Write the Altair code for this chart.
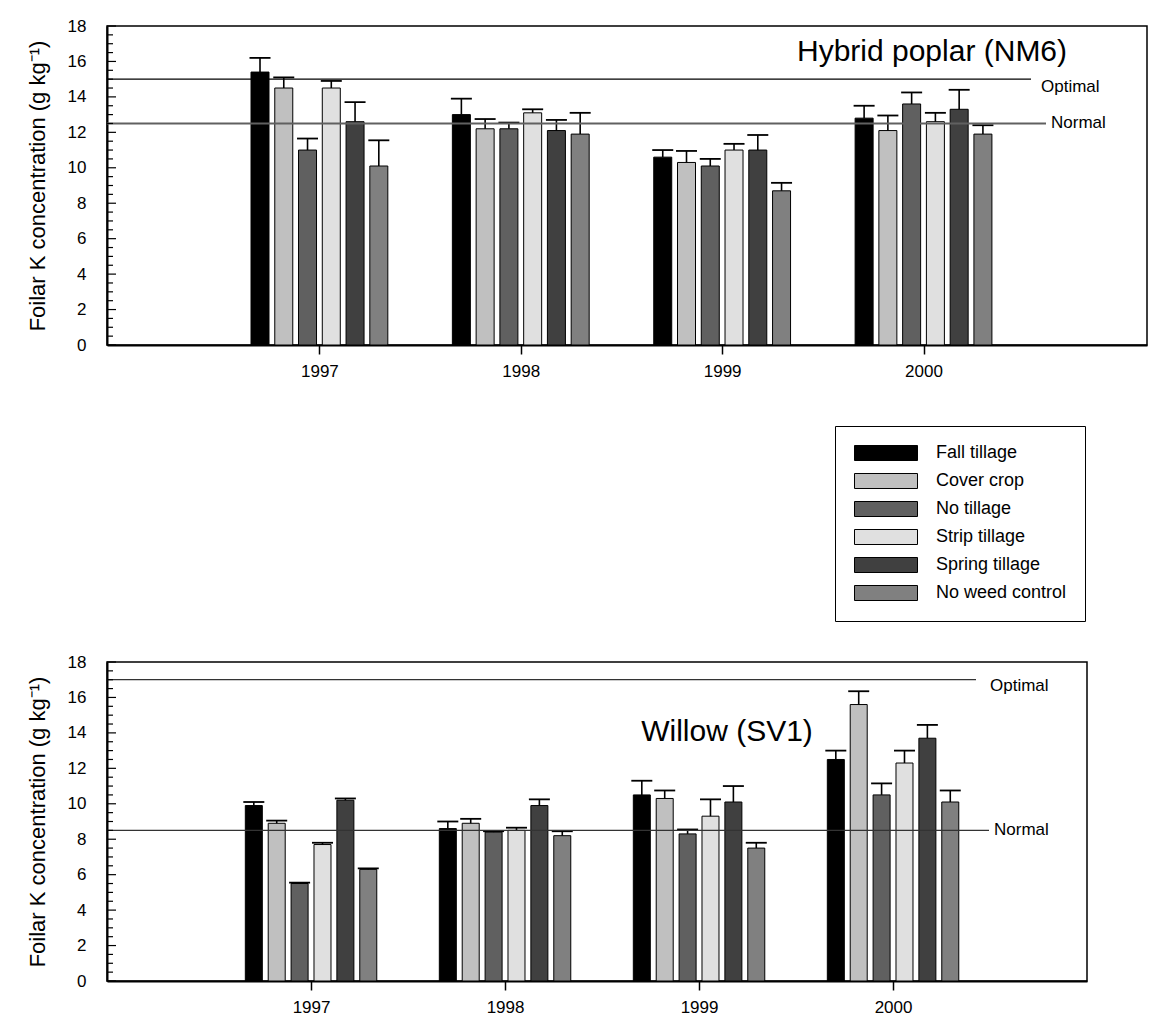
import altair as alt
import pandas as pd

# Treatments, their bar fills and the sampling years
treatments = ["Fall tillage", "Cover crop", "No tillage", "Strip tillage",
              "Spring tillage", "No weed control"]
fills = ["#000000", "#c0c0c0", "#606060", "#e0e0e0", "#404040", "#808080"]
years = [1997, 1998, 1999, 2000]

# Hybrid poplar (NM6): mean foliar K (g/kg) and standard error, one row per year
poplar_mean = [
    [15.4, 14.5, 11.0, 14.5, 12.6, 10.1],
    [13.0, 12.2, 12.2, 13.1, 12.1, 11.9],
    [10.6, 10.3, 10.1, 11.0, 11.0, 8.7],
    [12.8, 12.1, 13.6, 12.6, 13.3, 11.9],
]
poplar_se = [
    [0.8, 0.6, 0.65, 0.4, 1.1, 1.45],
    [0.9, 0.55, 0.35, 0.2, 0.6, 1.2],
    [0.4, 0.65, 0.4, 0.35, 0.85, 0.45],
    [0.7, 0.85, 0.65, 0.5, 1.1, 0.5],
]

# Willow (SV1): mean foliar K (g/kg) and standard error, one row per year
willow_mean = [
    [9.9, 8.9, 5.5, 7.7, 10.2, 6.3],
    [8.6, 8.9, 8.4, 8.5, 9.9, 8.2],
    [10.5, 10.3, 8.3, 9.3, 10.1, 7.5],
    [12.5, 15.6, 10.5, 12.3, 13.7, 10.1],
]
willow_se = [
    [0.2, 0.15, 0.05, 0.1, 0.1, 0.05],
    [0.4, 0.25, 0.05, 0.15, 0.35, 0.25],
    [0.8, 0.45, 0.25, 0.95, 0.9, 0.3],
    [0.5, 0.75, 0.65, 0.7, 0.75, 0.65],
]

# Sufficiency thresholds (g/kg)
ref_names = ["Optimal", "Normal"]
poplar_ref = [15, 12.5]
willow_ref = [17, 8.5]

# y-axis labelled ticks and the minor ticks between them
major_ticks = list(range(0, 19, 2))
minor_ticks = [v / 2 for v in range(0, 37) if v % 4 != 0]

FONT = "Liberation Sans"
PITCH = 0.118  # spacing between neighbouring bars, in years
Y_TITLE = "Foilar K concentration (g kg\u207b\u00b9)"

legend = alt.Legend(
    orient="none", legendX=728, legendY=400, direction="vertical", title=None,
    strokeColor="black", padding=18,
    symbolType="M-1,-1H7.4V1H-1Z", symbolSize=225,
    symbolStrokeColor="black", symbolStrokeWidth=1,
    labelFontSize=18, labelFont=FONT, labelColor="black",
    labelOffset=65, rowPadding=8,
)

y_axis = alt.Axis(values=major_ticks, ticks=False, labelPadding=21,
                  labelFontSize=17, titleFontSize=22, titlePadding=18,
                  grid=False, domainWidth=2)
x_axis = alt.Axis(values=years, format="d", tickSize=9, tickWidth=1.5,
                  labelPadding=9, labelFontSize=17, grid=False, domainWidth=2)


def panel(means, ses, refs, ref_style, title, title_pos, x_domain, width, bar_size):
    rows = []
    for i, yr in enumerate(years):
        for k, t in enumerate(treatments):
            rows.append({"year": yr, "treatment": t, "k": k,
                         "value": means[i][k], "se": ses[i][k]})
    df = pd.DataFrame(rows)

    base = alt.Chart(df).transform_calculate(
        xpos=f"datum.year + (datum.k - 2.5) * {PITCH}",
        upper="datum.value + datum.se",
    )
    xscale = alt.Scale(domain=x_domain, nice=False, zero=False)
    yscale = alt.Scale(domain=[0, 18], nice=False)

    def X(field):
        return alt.X(field, scale=xscale, title=None, axis=x_axis)

    def Y(field):
        return alt.Y(field, scale=yscale, title=Y_TITLE, axis=y_axis)

    bars = base.mark_bar(size=bar_size, stroke="black", strokeWidth=1).encode(
        x=X("xpos:Q"),
        y=Y("value:Q"),
        color=alt.Color("treatment:N", scale=alt.Scale(domain=treatments, range=fills),
                        legend=legend),
    )
    stems = base.mark_rule(color="black", strokeWidth=1.6).encode(
        x=X("xpos:Q"), y=Y("value:Q"), y2="upper:Q",
    )
    caps = base.mark_tick(orient="horizontal", size=21, thickness=1.8,
                          color="black", opacity=1).encode(
        x=X("xpos:Q"), y=Y("upper:Q"),
    )

    layers = [bars, stems, caps]

    # threshold lines with their labels
    for name, val, (line_end, text_x, dy, color, w) in zip(ref_names, refs, ref_style):
        rdf = pd.DataFrame({"name": [name], "value": [val]})
        layers.append(alt.Chart(rdf).mark_rule(color=color, strokeWidth=w).encode(
            y=Y("value:Q"), x=alt.value(0), x2=alt.value(line_end)))
        layers.append(alt.Chart(rdf).mark_text(
            align="left", baseline="middle", dy=dy, fontSize=17, font=FONT,
            color="black").encode(
            y=Y("value:Q"), x=alt.value(text_x), text="name:N"))

    # species label inside the plot
    tdf = pd.DataFrame({"label": [title]})
    layers.append(alt.Chart(tdf).mark_text(
        align="center", baseline="middle", fontSize=30, font=FONT,
        color="black").encode(
        x=alt.value(title_pos[0]), y=alt.value(title_pos[1]), text="label:N"))

    # inward-pointing y ticks
    for vals, length in ((major_ticks, 9), (minor_ticks, 6)):
        tk = pd.DataFrame({"value": vals})
        layers.append(alt.Chart(tk).mark_rule(color="black", strokeWidth=1.2).encode(
            y=Y("value:Q"), x=alt.value(0), x2=alt.value(length)))

    return alt.layer(*layers).properties(width=width, height=319)


top = panel(poplar_mean, poplar_se, poplar_ref,
            [(924, 934, 8, "black", 1.2), (939, 944, 0, "#606060", 2)],
            "Hybrid poplar (NM6)", (825, 26), [1995.970, 2001.085], 1040, 18)
bottom = panel(willow_mean, willow_se, willow_ref,
               [(869, 883, 6, "#333333", 1.2), (882, 887, 0, "#333333", 1.2)],
               "Willow (SV1)", (620, 70), [1995.974, 2000.974], 980, 17)

chart = alt.vconcat(top, bottom, spacing=272).resolve_scale(
    x="independent", y="independent", color="shared"
).properties(
    padding={"left": 25, "top": 16, "right": 0, "bottom": 0}
).configure(font=FONT).configure_view(
    stroke="black", strokeWidth=1.5
).configure_axis(
    labelFont=FONT, titleFont=FONT, titleFontWeight="normal",
    labelColor="black", titleColor="black", domainColor="black", tickColor="black",
)

chart.save("out.html", embed_options={"renderer": "svg", "actions": False})
